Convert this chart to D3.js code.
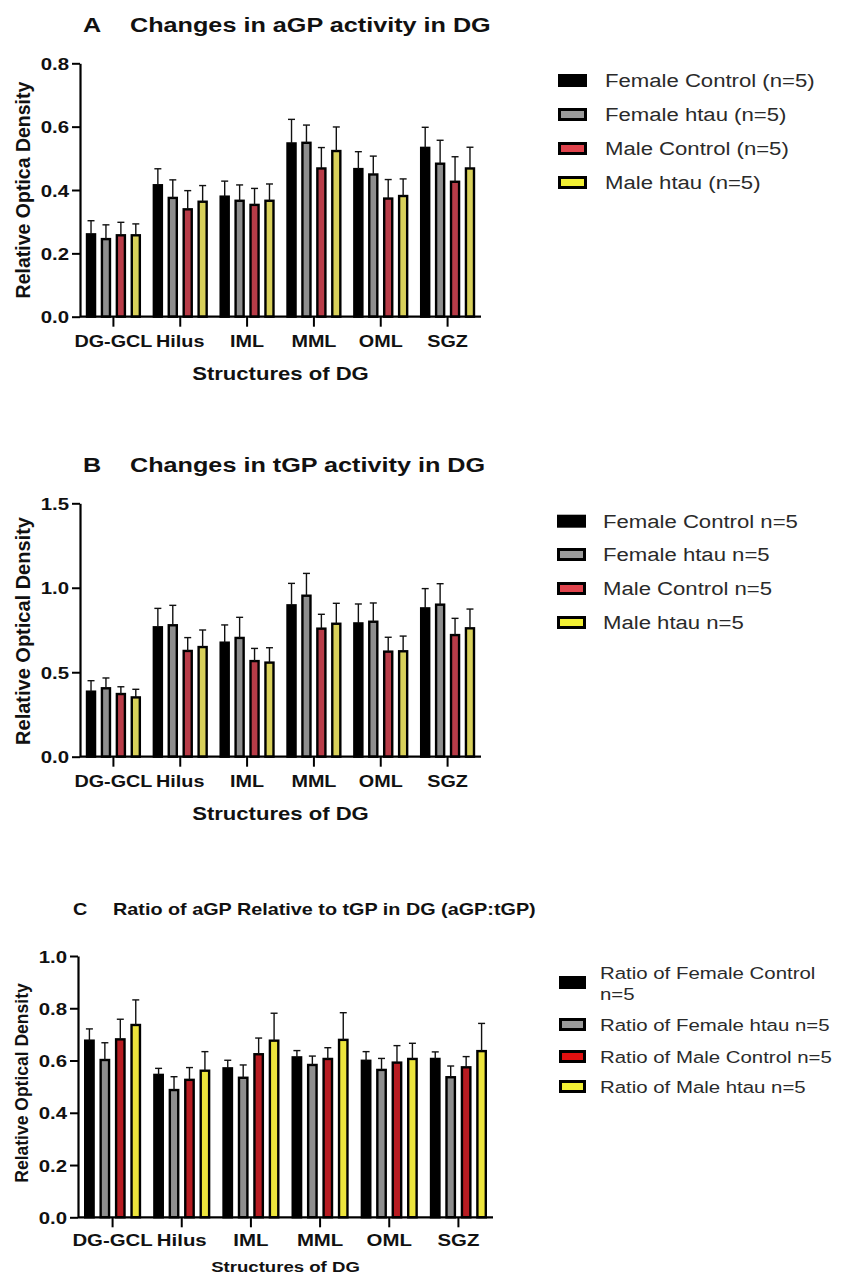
<!DOCTYPE html>
<html><head><meta charset="utf-8">
<script src="https://cdn.jsdelivr.net/npm/d3@7"></script>
<style>body{margin:0;background:#fff}svg{display:block}</style>
</head><body>
<svg id="c" width="842" height="1278"></svg>
<script>
const categories = ["DG-GCL","Hilus","IML","MML","OML","SGZ"];

const seriesA = ["Female Control (n=5)","Female htau (n=5)","Male Control (n=5)","Male htau (n=5)"];
const meanA_fc = [0.260,0.415,0.379,0.547,0.466,0.533];
const meanA_fh = [0.245,0.375,0.366,0.549,0.449,0.483];
const meanA_mc = [0.257,0.339,0.353,0.468,0.373,0.426];
const meanA_mh = [0.257,0.363,0.366,0.523,0.381,0.468];
const sdA_fc = [0.043,0.052,0.049,0.076,0.055,0.065];
const sdA_fh = [0.045,0.057,0.050,0.056,0.058,0.074];
const sdA_mc = [0.041,0.059,0.052,0.066,0.060,0.079];
const sdA_mh = [0.036,0.051,0.053,0.076,0.054,0.067];
const ticksA = [0,0.2,0.4,0.6,0.8];

const seriesB = ["Female Control n=5","Female htau n=5","Male Control n=5","Male htau n=5"];
const meanB_fc = [0.385,0.766,0.675,0.896,0.789,0.878];
const meanB_fh = [0.405,0.778,0.703,0.953,0.799,0.900];
const meanB_mc = [0.371,0.626,0.566,0.758,0.622,0.720];
const meanB_mh = [0.351,0.649,0.557,0.787,0.624,0.760];
const sdB_fc = [0.065,0.112,0.105,0.130,0.115,0.117];
const sdB_fh = [0.061,0.118,0.122,0.132,0.111,0.124];
const sdB_mc = [0.043,0.079,0.075,0.085,0.085,0.099];
const sdB_mh = [0.048,0.101,0.088,0.121,0.090,0.114];
const ticksB = [0,0.5,1.0,1.5];

const seriesC = [["Ratio of Female Control","n=5"],["Ratio of Female htau n=5"],["Ratio of Male Control n=5"],["Ratio of Male htau n=5"]];
const meanC_fc = [0.676,0.545,0.570,0.612,0.599,0.606];
const meanC_fh = [0.602,0.487,0.534,0.583,0.564,0.536];
const meanC_mc = [0.681,0.526,0.624,0.606,0.592,0.574];
const meanC_mh = [0.736,0.561,0.676,0.679,0.606,0.636];
const sdC_fc = [0.045,0.025,0.031,0.026,0.035,0.027];
const sdC_fh = [0.066,0.051,0.049,0.034,0.044,0.043];
const sdC_mc = [0.077,0.047,0.062,0.043,0.065,0.041];
const sdC_mh = [0.096,0.073,0.105,0.104,0.060,0.106];
const ticksC = [0,0.2,0.4,0.6,0.8,1.0];

const colorsAB = ["#000000","#8e8e8e","#b83c48","#d8d05a"];
const legendColorsAB = ["#000000","#9a9a9a","#e0434c","#f2f034"];
const colorsC = ["#000000","#8e8e8e","#b81c22","#ece43c"];
const legendColorsC = ["#000000","#9a9a9a","#e01010","#f2f034"];

const FONT = "'Liberation Sans', Arial, Helvetica, sans-serif";
const SX = 1.2;
const svg = d3.select("#c");

function txt(g, x, y, s, size, weight, anchor, sx) {
  return g.append("text")
    .attr("transform", `translate(${x},${y}) scale(${sx||SX},1)`)
    .attr("font-family", FONT).attr("font-size", size)
    .attr("font-weight", weight).attr("text-anchor", anchor || "start")
    .attr("fill", "#111").text(s);
}

function panel(cfg) {
  const g = svg.append("g");
  const x0 = d3.scaleBand().domain(categories).range([cfg.x0, cfg.x1]).paddingInner(0.12).paddingOuter(0.06);
  const x1 = d3.scaleBand().domain(d3.range(4)).range([0, x0.bandwidth()]).paddingInner(0.3).paddingOuter(0.12);
  const y = d3.scaleLinear().domain([0, cfg.ticks[cfg.ticks.length-1]]).range([cfg.yb, cfg.yt]);

  const sw = 2.4;
  cfg.means.forEach((arr, si) => {
    g.append("g").selectAll("rect").data(arr).join("rect")
      .attr("x", (d,i) => x0(categories[i]) + x1(si) + sw/2)
      .attr("width", x1.bandwidth() - sw)
      .attr("y", d => y(d))
      .attr("height", d => y(0) - y(d))
      .attr("fill", cfg.colors[si]).attr("stroke", "#000").attr("stroke-width", sw);
  });
  cfg.means.forEach((arr, si) => {
    const eg = g.append("g").attr("stroke", "#111").attr("stroke-width", 1.4);
    arr.forEach((m, i) => {
      const cx = x0(categories[i]) + x1(si) + x1.bandwidth()/2;
      const top = y(m + cfg.sds[si][i]);
      eg.append("line").attr("x1", cx).attr("x2", cx).attr("y1", y(m)).attr("y2", top);
      eg.append("line").attr("x1", cx-3.5).attr("x2", cx+3.5).attr("y1", top).attr("y2", top);
    });
  });

  const ya = g.append("g").attr("transform", `translate(${cfg.x0},0)`)
    .call(d3.axisLeft(y).tickValues(cfg.ticks).tickFormat(d3.format(".1f")).tickSize(8).tickSizeOuter(0));
  ya.select(".domain").attr("stroke", "#000").attr("stroke-width", 2.2);
  ya.selectAll(".tick line").attr("stroke", "#000").attr("stroke-width", 2);
  ya.selectAll(".tick text").attr("x", 0).attr("dy", "0.36em")
    .attr("transform", `translate(-11,0) scale(${SX},1)`)
    .attr("font-family", FONT).attr("font-size", cfg.tickFont).attr("font-weight", "bold").attr("fill", "#111");

  const xa = g.append("g").attr("transform", `translate(0,${cfg.yb})`)
    .call(d3.axisBottom(x0).tickSize(10).tickSizeOuter(0));
  xa.select(".domain").attr("stroke", "#000").attr("stroke-width", 2.2)
    .attr("d", `M${cfg.x0},0H${cfg.x1}`);
  xa.selectAll(".tick line").attr("stroke", "#000").attr("stroke-width", 2);
  xa.selectAll(".tick text").attr("y", 0).attr("dy", 0)
    .attr("transform", `translate(0,${cfg.xLabOff}) scale(${SX},1)`)
    .attr("font-family", FONT).attr("font-size", cfg.xTickFont).attr("font-weight", "bold").attr("fill", "#111");

  txt(g, cfg.letterX, cfg.titleY, cfg.letter, cfg.titleFont, "bold");
  txt(g, cfg.titleX, cfg.titleY, cfg.title, cfg.titleFont, "bold");
  txt(g, (cfg.x0 + cfg.x1)/2, cfg.xTitleY, "Structures of DG", cfg.xTitleFont, "bold", "middle");
  g.append("text")
    .attr("transform", `translate(${cfg.yLabX},${cfg.yLabY}) rotate(-90)`)
    .attr("font-family", FONT).attr("font-size", cfg.yLabFont).attr("font-weight", "bold")
    .attr("text-anchor", "middle").attr("dy", "0.35em").attr("fill", "#111").text(cfg.yLabel);

  const lg = g.append("g");
  cfg.legend.forEach((lab, i) => {
    const cy = cfg.legRows[i];
    lg.append("rect").attr("x", cfg.legSwX + 1.5).attr("y", cy - 5.5)
      .attr("width", cfg.legSwW - 3).attr("height", 10)
      .attr("fill", cfg.legColors[i]).attr("stroke", "#000").attr("stroke-width", 3);
    const lines = Array.isArray(lab) ? lab : [lab];
    const lh = 21;
    lines.forEach((s, k) => {
      const ly = cy - (lines.length - 1) * lh / 2 + k * lh;
      txt(lg, cfg.legTextX, ly, s, cfg.legFont, "normal", "start", cfg.legSX)
        .attr("dy", "0.36em").attr("fill", "#2a2a2a");
    });
  });
}

panel({
  means: [meanA_fc, meanA_fh, meanA_mc, meanA_mh], sds: [sdA_fc, sdA_fh, sdA_mc, sdA_mh],
  ticks: ticksA, colors: colorsAB, legColors: legendColorsAB, legend: seriesA,
  x0: 80, x1: 481, yb: 316.7, yt: 63.3,
  letter: "A", letterX: 83, titleX: 130, titleY: 31.5, title: "Changes in aGP activity in DG", titleFont: 21,
  tickFont: 17, xTickFont: 16.5, xLabOff: 30, xTitleY: 380, xTitleFont: 18.4,
  yLabel: "Relative Optica Density", yLabX: 23, yLabY: 190, yLabFont: 19.5,
  legSwX: 558, legSwW: 29, legTextX: 605, legRows: [81, 115, 149, 183], legFont: 18, legSX: 1.23
});

panel({
  means: [meanB_fc, meanB_fh, meanB_mc, meanB_mh], sds: [sdB_fc, sdB_fh, sdB_mc, sdB_mh],
  ticks: ticksB, colors: colorsAB, legColors: legendColorsAB, legend: seriesB,
  x0: 80, x1: 481, yb: 756.7, yt: 503.3,
  letter: "B", letterX: 83, titleX: 130, titleY: 472, title: "Changes in tGP activity in DG", titleFont: 21,
  tickFont: 17, xTickFont: 16.5, xLabOff: 30, xTitleY: 820, xTitleFont: 18.4,
  yLabel: "Relative Optical Density", yLabX: 23, yLabY: 631, yLabFont: 20,
  legSwX: 557, legSwW: 29, legTextX: 603, legRows: [521.7, 555, 589, 623], legFont: 18, legSX: 1.23
});

panel({
  means: [meanC_fc, meanC_fh, meanC_mc, meanC_mh], sds: [sdC_fc, sdC_fh, sdC_mc, sdC_mh],
  ticks: ticksC, colors: colorsC, legColors: legendColorsC, legend: seriesC,
  x0: 78, x1: 493, yb: 1217.3, yt: 956,
  letter: "C", letterX: 73, titleX: 113, titleY: 915, title: "Ratio of aGP Relative to tGP in DG (aGP:tGP)", titleFont: 16.5,
  tickFont: 17, xTickFont: 17, xLabOff: 29, xTitleY: 1272, xTitleFont: 15.5,
  yLabel: "Relative Optical Density", yLabX: 22, yLabY: 1083, yLabFont: 17.5,
  legSwX: 559, legSwW: 27, legTextX: 600, legRows: [983, 1025, 1057, 1087], legFont: 17, legSX: 1.2
});
</script>
</body></html>
